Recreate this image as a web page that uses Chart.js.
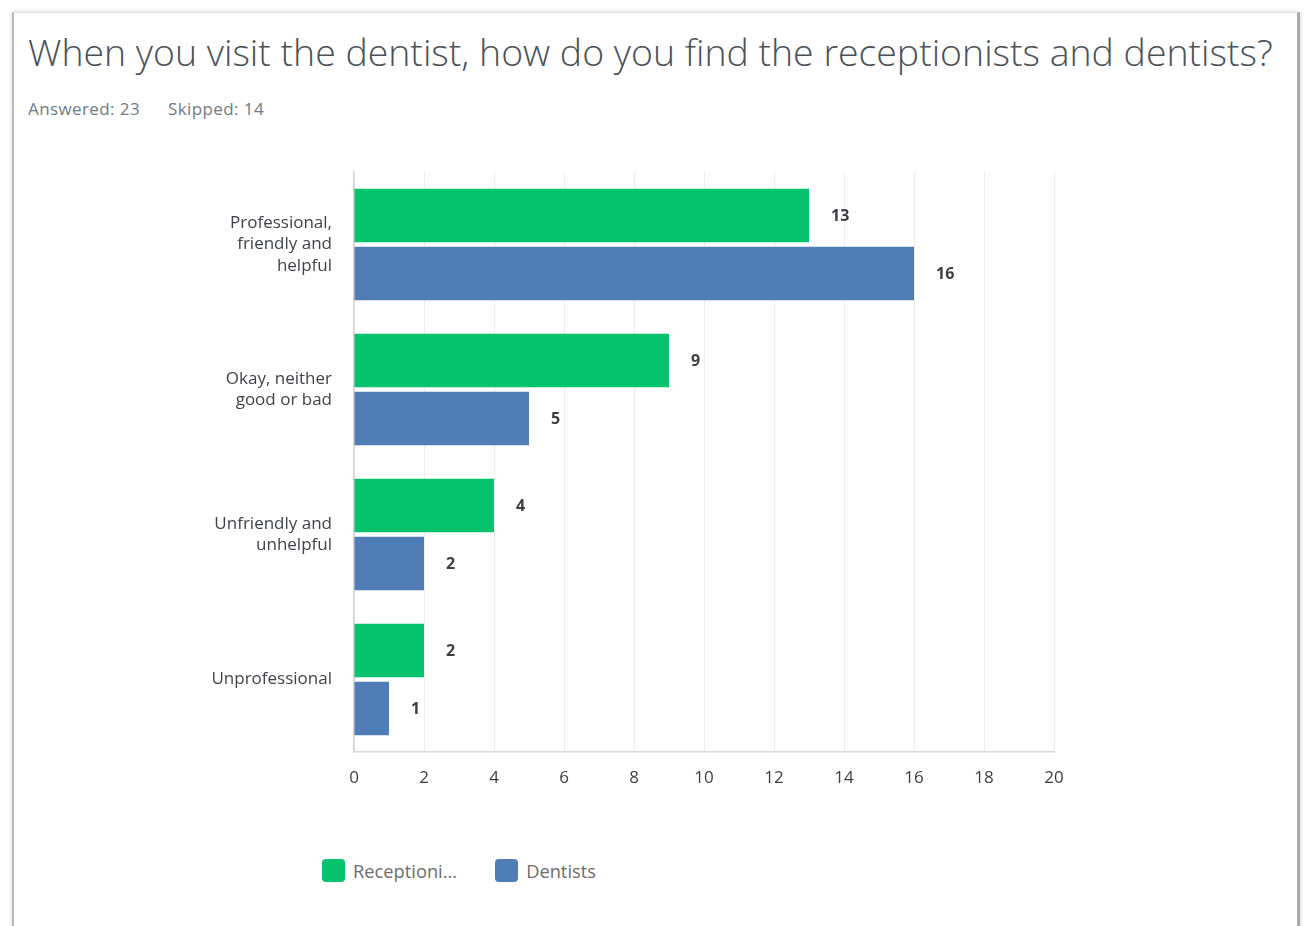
<!DOCTYPE html>
<html>
<head>
<meta charset="utf-8">
<script src="https://cdn.jsdelivr.net/npm/chart.js@4"></script>
<style>
  html, body { margin: 0; padding: 0; background: #fff; }
  body { width: 1307px; height: 926px; position: relative; overflow: hidden; font-family: "Open Sans", "Noto Sans", sans-serif; }
  .card {
    position: absolute; left: 12px; top: 12px; width: 1288px; height: 940px;
    background: #fff;
    border-left: 2px solid #b9b9b9; border-right: 3px solid #a9a9a9; border-top: 1px solid #e2e2e2;
    box-shadow: 0 0 4px rgba(0,0,0,0.18);
    box-sizing: border-box;
  }
  .title {
    position: absolute; left: 28px; top: 30px; white-space: nowrap;
    font-size: 35px; font-weight: 300; color: #4a5158; line-height: 44px;
  }
  .meta {
    position: absolute; left: 28px; top: 97px; font-size: 17px; letter-spacing: 0.4px; color: #6f7b83; white-space: nowrap;
  }
  .meta span + span { margin-left: 28px; }
  #wrap { position: absolute; left: 0; top: 150px; width: 1307px; height: 642px; }
  .legend { position: absolute; left: 322px; top: 859px; display: flex; align-items: center; }
  .legend .item { display: flex; align-items: center; }
  .legend .box { width: 23px; height: 23px; border-radius: 4px; }
  .legend .txt { font-size: 18.3px; color: #6d6d6d; margin-left: 8px; line-height: 23px; }
</style>
</head>
<body>
<div class="card"></div>
<div class="title" id="title">When you visit the dentist, how do you find the receptionists and dentists?</div>
<div class="meta"><span>Answered: 23</span><span>Skipped: 14</span></div>
<div id="wrap"><canvas id="chart"></canvas></div>
<div class="legend" id="legend"></div>
<script>
// Answer options (wrapped onto several lines as shown on the axis)
const categories = [
  ["Professional,", "friendly and", "helpful"],
  ["Okay, neither", "good or bad"],
  ["Unfriendly and", "unhelpful"],
  ["Unprofessional"]
];
const seriesNames = ["Receptionists", "Dentists"];
const receptionists = [13, 9, 4, 2];
const dentists = [16, 5, 2, 1];
const xTicks = [0, 2, 4, 6, 8, 10, 12, 14, 16, 18, 20];
const colors = ["#05c26e", "#517db7"];

// Stretch the heading so it spans the card width
(function fitTitle() {
  const t = document.getElementById('title');
  const target = 1245;
  let fs = 35;
  t.style.fontSize = fs + 'px';
  fs = fs * target / t.offsetWidth;
  t.style.fontSize = fs.toFixed(2) + 'px';
})();

const FONT = '"Open Sans", "Noto Sans", sans-serif';

const valueLabels = {
  id: 'valueLabels',
  afterDatasetsDraw(chart) {
    const ctx = chart.ctx;
    ctx.save();
    ctx.font = 'bold 16px ' + FONT;
    ctx.fillStyle = '#3b3f44';
    ctx.textAlign = 'left';
    ctx.textBaseline = 'middle';
    chart.data.datasets.forEach((ds, i) => {
      chart.getDatasetMeta(i).data.forEach((bar, j) => {
        ctx.fillText(String(ds.data[j]), bar.x + 22, bar.y + 1);
      });
    });
    ctx.restore();
  }
};

const chart = new Chart(document.getElementById('chart'), {
  type: 'bar',
  data: {
    labels: categories,
    datasets: [
      { label: seriesNames[0], data: receptionists, backgroundColor: colors[0] },
      { label: seriesNames[1], data: dentists, backgroundColor: colors[1] }
    ]
  },
  options: {
    indexAxis: 'y',
    responsive: true,
    maintainAspectRatio: false,
    animation: false,
    categoryPercentage: 0.8,
    barPercentage: 0.92,
    layout: { padding: { top: 22, right: 253, left: 0, bottom: 0 } },
    plugins: { legend: { display: false }, tooltip: { enabled: false }, title: { display: false } },
    scales: {
      x: {
        min: 0, max: 20,
        afterBuildTicks(scale) { scale.ticks = xTicks.map(v => ({ value: v })); },
        afterFit(scale) { scale.height = 40; scale.paddingLeft = 0; scale.paddingRight = 0; },
        grid: { color: '#ececec', drawTicks: false },
        border: { color: '#d9d9d9', width: 1.5 },
        ticks: { padding: 16, color: '#3b3f44', font: { family: FONT, size: 17 }, maxRotation: 0 }
      },
      y: {
        afterFit(scale) { scale.width = 354; scale.paddingTop = 0; scale.paddingBottom = 0; },
        grid: { display: false, drawTicks: false },
        border: { color: '#d3d3d3', width: 1.5 },
        ticks: { padding: 22, color: '#3f444a', font: { family: FONT, size: 17, lineHeight: 1.25 } }
      }
    }
  },
  plugins: [valueLabels]
});

// Legend built from the chart's datasets
const legend = document.getElementById('legend');
chart.data.datasets.forEach((ds, i) => {
  const item = document.createElement('div');
  item.className = 'item';
  item.style.marginRight = i === 0 ? '38px' : '0';
  const box = document.createElement('div');
  box.className = 'box';
  box.style.background = ds.backgroundColor;
  const txt = document.createElement('div');
  txt.className = 'txt';
  txt.textContent = ds.label.length > 10 ? ds.label.slice(0, 10) + '...' : ds.label;
  item.appendChild(box); item.appendChild(txt);
  legend.appendChild(item);
});
</script>
</body>
</html>
